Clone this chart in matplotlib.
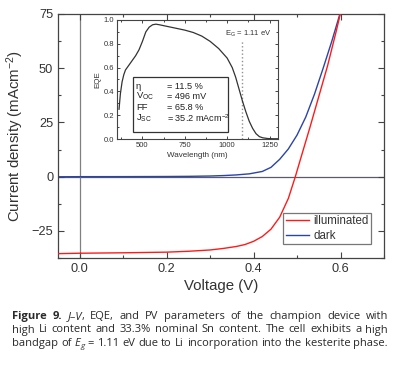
import matplotlib
matplotlib.use('Agg')
import matplotlib.pyplot as plt
from matplotlib.ticker import MultipleLocator
from matplotlib.patches import Rectangle

# ---- data ----
voltage_illum = [-0.05, 0.0, 0.1, 0.2, 0.25, 0.3, 0.33, 0.36, 0.38, 0.40, 0.42, 0.44,
                 0.46, 0.48, 0.496, 0.51, 0.53, 0.55, 0.57, 0.59, 0.60]
current_illum = [-35.5, -35.3, -35.1, -34.8, -34.4, -33.8, -33.1, -32.2, -31.3, -29.8,
                 -27.6, -24.2, -18.7, -10.0, 0.0, 9.5, 23.0, 37.0, 51.0, 67.0, 75.5]
voltage_dark = [-0.05, 0.0, 0.1, 0.2, 0.25, 0.3, 0.33, 0.36, 0.39, 0.42, 0.44, 0.46,
                0.48, 0.50, 0.52, 0.54, 0.56, 0.58, 0.60]
current_dark = [-0.05, 0.0, 0.02, 0.08, 0.15, 0.3, 0.5, 0.8, 1.3, 2.4, 4.3, 8.0,
                12.8, 19.2, 27.5, 38.0, 50.0, 62.5, 76.0]

wavelength = [362, 370, 380, 390, 400, 420, 440, 460, 480, 500, 520, 540, 560, 580, 600,
              650, 700, 750, 800, 850, 900, 950, 1000, 1030, 1050, 1070, 1090, 1110,
              1130, 1150, 1170, 1190, 1210, 1240, 1270, 1300]
eqe = [0.25, 0.38, 0.48, 0.54, 0.58, 0.62, 0.66, 0.70, 0.75, 0.82, 0.90, 0.94, 0.96,
       0.965, 0.96, 0.945, 0.93, 0.915, 0.895, 0.865, 0.82, 0.76, 0.68, 0.60, 0.52,
       0.42, 0.32, 0.23, 0.15, 0.09, 0.045, 0.02, 0.01, 0.004, 0.002, 0.002]
eg_wavelength = 1085
eg_label = r'E$_{\mathrm{G}}$ = 1.11 eV'

pv_names = ['\u03b7', r'V$_{\mathrm{OC}}$', 'FF', r'J$_{\mathrm{SC}}$']
pv_values = ['= 11.5 %', '= 496 mV', '= 65.8 %', r'= 35.2 mAcm$^{-2}$']

x_ticks = [0.0, 0.2, 0.4, 0.6]
x_ticklabels = ['0.0', '0.2', '0.4', '0.6']
y_ticks = [-25, 0, 25, 50, 75]
inset_xticks = [500, 750, 1000, 1250]
inset_yticks = [0.0, 0.2, 0.4, 0.6, 0.8, 1.0]

caption_lines = [
    [[('Figure', 'b')], [('9.', 'b')], [('J\u2013V', 'i'), (',', 'r')], [('EQE,', 'r')],
     [('and', 'r')], [('PV', 'r')], [('parameters', 'r')], [('of', 'r')], [('the', 'r')],
     [('champion', 'r')], [('device', 'r')], [('with', 'r')]],
    [[(w, 'r')] for w in 'high Li content and 33.3% nominal Sn content. The cell exhibits a high'.split()],
    [[('bandgap', 'r')], [('of', 'r')], [('E', 'i'), ('g', 'sub')], [('=', 'r')], [('1.11', 'r')],
     [('eV', 'r')]] + [[(w, 'r')] for w in 'due to Li incorporation into the kesterite phase.'.split()],
]

# ---- style ----
plt.rcParams['font.family'] = ['Liberation Sans', 'DejaVu Sans']
plt.rcParams['mathtext.fontset'] = 'custom'
plt.rcParams['mathtext.rm'] = 'Liberation Sans'
plt.rcParams['mathtext.it'] = 'Liberation Sans:italic'
plt.rcParams['mathtext.bf'] = 'Liberation Sans:bold'

W, H = 400, 375
fig = plt.figure(figsize=(W / 100, H / 100), dpi=100)
fig.patch.set_facecolor('white')

spine_c = '#444444'

# ---- main axes ----
ax = fig.add_axes([58 / W, 1 - 258 / H, 326 / W, 244 / H])
ax.axhline(0, color='#5a5a6a', lw=0.9, zorder=1)
ax.axvline(0, color='#808080', lw=0.9, zorder=1)
ax.plot(voltage_illum, current_illum, color='#ff1a1a', lw=1.0, label='illuminated', zorder=3)
ax.plot(voltage_dark, current_dark, color='#2a44a8', lw=1.0, label='dark', zorder=2)
ax.set_xlim(-0.05, 0.7)
ax.set_ylim(-37.5, 75)
ax.set_xticks(x_ticks)
ax.set_xticklabels(x_ticklabels)
ax.set_yticks(y_ticks)
ax.xaxis.set_minor_locator(MultipleLocator(0.1))
ax.yaxis.set_minor_locator(MultipleLocator(12.5))
ax.tick_params(which='both', direction='in', top=True, right=True, colors=spine_c,
               labelcolor='#333333', labelsize=9.2, width=0.8)
ax.tick_params(which='major', length=4)
ax.tick_params(which='minor', length=2.5)
for s in ax.spines.values():
    s.set_color(spine_c)
    s.set_linewidth(0.9)
ax.set_xlabel('Voltage (V)', fontsize=10.8, color='#333333', labelpad=3)
ax.set_ylabel(r'Current density (mAcm$^{-2}$)', fontsize=10.8, color='#333333', labelpad=4)

leg = ax.legend(loc='lower right', bbox_to_anchor=(0.96, 0.057), borderaxespad=0,
                fontsize=8.3, frameon=True, fancybox=False, handlelength=2.0,
                handletextpad=0.4, labelspacing=0.2, borderpad=0.2)
leg.get_frame().set_edgecolor('#555555')
leg.get_frame().set_linewidth(0.9)
for t in leg.get_texts():
    t.set_color('#333333')

# ---- inset ----
ins = fig.add_axes([117 / W, 1 - 139 / H, 161 / W, 119 / H])
ins.plot(wavelength, eqe, color='#333333', lw=0.9, zorder=2)
ins.axvline(eg_wavelength, ymin=0, ymax=0.82, ls=':', color='#909090', lw=1.0, zorder=1)
ins.text(1123, 0.88, eg_label, ha='center', va='center', fontsize=5.5, color='#333333')
ins.set_xlim(350, 1300)
ins.set_ylim(0, 1.0)
ins.set_xticks(inset_xticks)
ins.set_yticks(inset_yticks)
ins.xaxis.set_minor_locator(MultipleLocator(125))
ins.yaxis.set_minor_locator(MultipleLocator(0.1))
ins.tick_params(which='both', direction='in', top=True, right=True, colors=spine_c,
                labelcolor='#333333', labelsize=5.5, width=0.7, pad=2)
ins.tick_params(which='major', length=2.5)
ins.tick_params(which='minor', length=1.5)
for s in ins.spines.values():
    s.set_color(spine_c)
    s.set_linewidth(0.8)
ins.set_xlabel('Wavelength (nm)', fontsize=5.8, color='#333333', labelpad=2)
ins.set_ylabel('EQE', fontsize=5.8, color='#333333', labelpad=2)

ins.add_patch(Rectangle((0.10, 0.06), 0.59, 0.46, transform=ins.transAxes,
                        facecolor='white', edgecolor='#333333', lw=0.9, zorder=4))
rows_y = [0.445, 0.356, 0.261, 0.176]
for name, val, yy in zip(pv_names, pv_values, rows_y):
    ins.text(0.118, yy, name, transform=ins.transAxes, fontsize=6.8, va='center',
             color='#222222', zorder=5)
    ins.text(0.31, yy, val, transform=ins.transAxes, fontsize=6.6, va='center',
             color='#222222', zorder=5)

# ---- caption (justified) ----
renderer = fig.canvas.get_renderer()
cap_size = 8.0


def seg_props(style):
    d = dict(family=['Open Sans', 'DejaVu Sans'], size=cap_size, color='#2a2a2a')
    if style == 'b':
        d['weight'] = 'bold'
    elif style == 'i':
        d['style'] = 'italic'
    elif style == 'sub':
        d['style'] = 'italic'
        d['size'] = cap_size * 0.72
    return d


x_left, x_right = 12, 388
baselines = [319, 332.5, 346]
for words, base in zip(caption_lines, baselines):
    made = []
    total = 0
    for word in words:
        segs = []
        wsum = 0
        for txt, st in word:
            dy = 2.0 if st == 'sub' else 0.0
            t = fig.text(0, 1 - (base + dy) / H, txt, va='baseline', ha='left', **seg_props(st))
            w = t.get_window_extent(renderer).width
            segs.append((t, wsum))
            wsum += w
        made.append((segs, wsum))
        total += wsum
    gap = (x_right - x_left - total) / (len(made) - 1)
    x = x_left
    for segs, wsum in made:
        for t, off in segs:
            t.set_x((x + off) / W)
        x += wsum + gap

fig.savefig('out.png', dpi=100, facecolor='white')
